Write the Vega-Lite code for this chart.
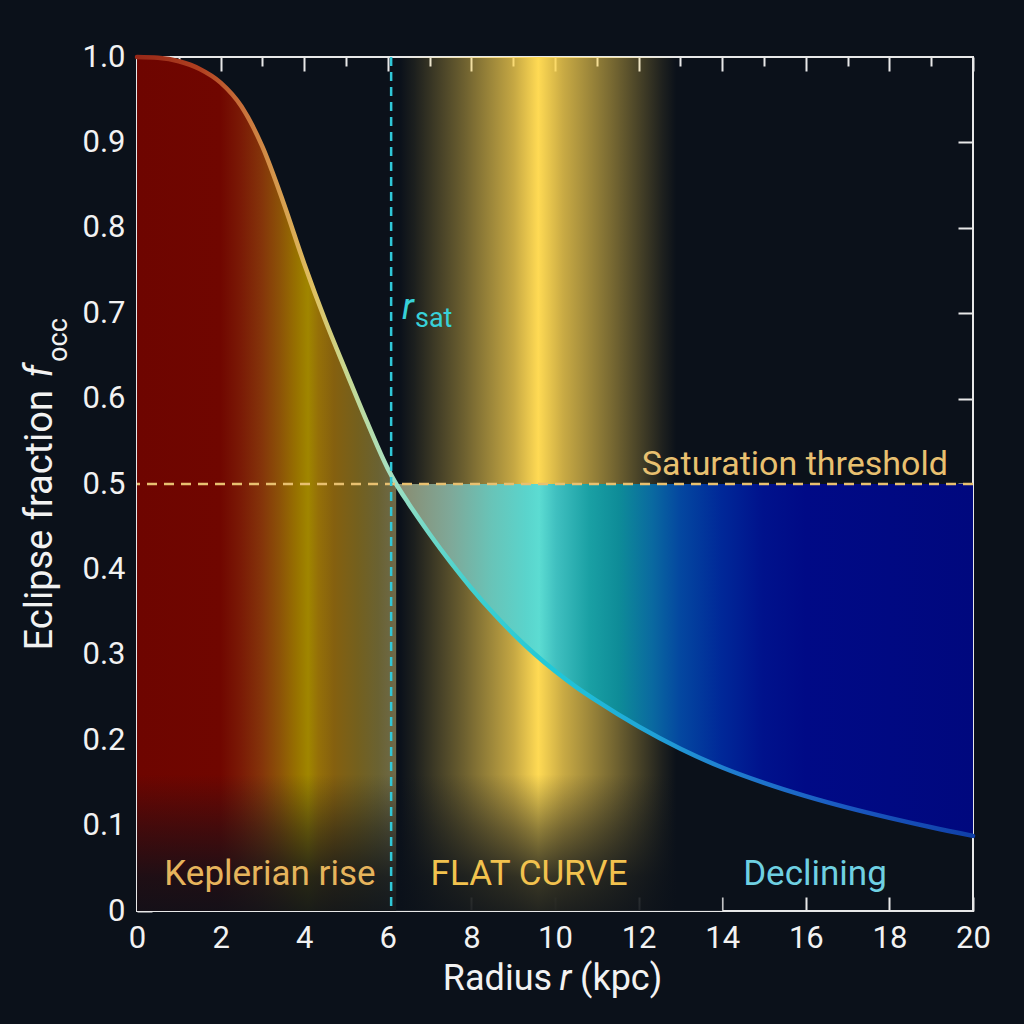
{
  "$schema": "https://vega.github.io/schema/vega-lite/v6.json",
  "width": 836,
  "height": 854,
  "autosize": {"type": "none"},
  "padding": {"left": 137, "top": 57, "right": 51, "bottom": 113},
  "background": "#0b111a",
  "config": {
    "view": {"stroke": "#e8e8e8", "strokeWidth": 2},
    "font": "Roboto",
    "axis": {
      "domain": false,
      "grid": false,
      "tickColor": "#e8e8e8",
      "tickWidth": 2,
      "labelColor": "#f2f2f2",
      "labelFont": "Roboto",
      "labelFontSize": 31,
      "labelFlush": false
    }
  },
  "datasets": {
    "curve": [
      {"r": 0, "f": 1.0},
      {"r": 0.5, "f": 0.999},
      {"r": 1.0, "f": 0.995},
      {"r": 1.5, "f": 0.986},
      {"r": 2.0, "f": 0.97},
      {"r": 2.5, "f": 0.942},
      {"r": 3.0, "f": 0.895},
      {"r": 3.5, "f": 0.83},
      {"r": 4.0, "f": 0.758},
      {"r": 4.5, "f": 0.692},
      {"r": 5.0, "f": 0.632},
      {"r": 5.5, "f": 0.573},
      {"r": 6.0, "f": 0.518},
      {"r": 6.2, "f": 0.5},
      {"r": 6.5, "f": 0.477},
      {"r": 7.0, "f": 0.4415},
      {"r": 7.5, "f": 0.4085},
      {"r": 8.0, "f": 0.378},
      {"r": 8.5, "f": 0.35},
      {"r": 9.0, "f": 0.3245},
      {"r": 9.5, "f": 0.3015},
      {"r": 10.0, "f": 0.281},
      {"r": 10.5, "f": 0.2625},
      {"r": 11.0, "f": 0.246},
      {"r": 12.0, "f": 0.216},
      {"r": 13.0, "f": 0.19},
      {"r": 14.0, "f": 0.168},
      {"r": 15.0, "f": 0.15},
      {"r": 16.0, "f": 0.1345},
      {"r": 17.0, "f": 0.121},
      {"r": 18.0, "f": 0.109},
      {"r": 19.0, "f": 0.098},
      {"r": 20.0, "f": 0.088}
    ]
  },
  "resolve": {"axis": {"x": "independent", "y": "independent"}},
  "layer": [
    {
      "data": {"values": [{"r1": 6.3, "r2": 12.9, "f1": 0, "f2": 1}]},
      "mark": {
        "type": "rect",
        "fill": {
          "gradient": "linear", "x1": 0, "y1": 0, "x2": 1, "y2": 0,
          "stops": [
            {"offset": 0, "color": "rgba(255,214,80,0)"},
            {"offset": 0.05, "color": "rgba(255,214,80,0.07)"},
            {"offset": 0.23, "color": "rgba(255,214,80,0.4)"},
            {"offset": 0.41, "color": "rgba(255,214,80,0.76)"},
            {"offset": 0.5, "color": "rgba(255,218,84,1)"},
            {"offset": 0.59, "color": "rgba(255,214,80,0.78)"},
            {"offset": 0.77, "color": "rgba(255,214,80,0.44)"},
            {"offset": 0.95, "color": "rgba(255,214,80,0.08)"},
            {"offset": 1, "color": "rgba(255,214,80,0)"}
          ]
        }
      },
      "encoding": {
        "x": {
          "field": "r1", "type": "quantitative",
          "scale": {"domain": [0, 20], "nice": false},
          "axis": {"orient": "bottom", "values": [0, 2, 4, 6, 8, 10, 12, 14, 16, 18, 20], "tickSize": -14, "labelPadding": 26, "title": null}
        },
        "x2": {"field": "r2"},
        "y": {
          "field": "f1", "type": "quantitative",
          "scale": {"domain": [0, 1], "nice": false},
          "axis": {"orient": "left", "values": [0, 0.1, 0.2, 0.3, 0.4, 0.5, 0.6, 0.7, 0.8, 0.9, 1], "tickSize": -15, "labelPadding": 27, "labelExpr": "datum.value == 0 ? '0' : format(datum.value, '.1f')", "title": null}
        },
        "y2": {"field": "f2"}
      }
    },
    {
      "data": {"name": "curve"},
      "transform": [{"filter": "datum.r <= 6.2"}],
      "mark": {
        "type": "area",
        "interpolate": "monotone",
        "fill": {
          "gradient": "linear", "x1": 0, "y1": 0, "x2": 1, "y2": 0,
          "stops": [
            {"offset": 0, "color": "#6e0500"},
            {"offset": 0.32, "color": "#700600"},
            {"offset": 0.4, "color": "#7a1a06"},
            {"offset": 0.48, "color": "#84340a"},
            {"offset": 0.55, "color": "#8c5208"},
            {"offset": 0.62, "color": "#987400"},
            {"offset": 0.66, "color": "#a08600"},
            {"offset": 0.7, "color": "#957008"},
            {"offset": 0.76, "color": "#85600f"},
            {"offset": 0.85, "color": "#74601e"},
            {"offset": 0.93, "color": "#6a6232"},
            {"offset": 1, "color": "#6e6a4a"}
          ]
        }
      },
      "encoding": {
        "x": {
          "field": "r", "type": "quantitative",
          "axis": {"orient": "top", "values": [0, 2, 4, 6, 8, 10, 12, 14, 16, 18, 20], "tickSize": -14, "labels": false, "title": null}
        },
        "y": {
          "field": "f", "type": "quantitative",
          "axis": {"orient": "right", "values": [0.1, 0.2, 0.3, 0.4, 0.5, 0.6, 0.7, 0.8, 0.9], "tickSize": -15, "labels": false, "title": null}
        },
        "y2": {"datum": 0}
      }
    },
    {
      "data": {"name": "curve"},
      "transform": [{"filter": "datum.r >= 6.2"}],
      "mark": {
        "type": "area",
        "interpolate": "monotone",
        "fill": {
          "gradient": "linear", "x1": 0, "y1": 0, "x2": 1, "y2": 0,
          "stops": [
            {"offset": 0, "color": "#8a8a6e"},
            {"offset": 0.094, "color": "#7fa898"},
            {"offset": 0.166, "color": "#68c4b8"},
            {"offset": 0.226, "color": "#5ad4cc"},
            {"offset": 0.248, "color": "#5cdcd2"},
            {"offset": 0.277, "color": "#40c0c0"},
            {"offset": 0.335, "color": "#1aa0a4"},
            {"offset": 0.386, "color": "#0e8c98"},
            {"offset": 0.443, "color": "#0a6aa0"},
            {"offset": 0.491, "color": "#0448a0"},
            {"offset": 0.564, "color": "#002898"},
            {"offset": 0.636, "color": "#00128c"},
            {"offset": 0.71, "color": "#000a86"},
            {"offset": 1, "color": "#00087e"}
          ]
        }
      },
      "encoding": {
        "x": {
          "field": "r", "type": "quantitative",
          "axis": {"orient": "top", "values": [1, 3, 5, 7, 9, 11, 13, 15, 17, 19], "tickSize": -9, "labels": false, "title": null}
        },
        "y": {"field": "f", "type": "quantitative", "axis": null},
        "y2": {"datum": 0.5}
      }
    },
    {
      "data": {"values": [{"r1": 0, "r2": 14, "f1": 0, "f2": 0.16}]},
      "mark": {
        "type": "rect",
        "fill": {
          "gradient": "linear", "x1": 0, "y1": 0, "x2": 0, "y2": 1,
          "stops": [
            {"offset": 0, "color": "rgba(11,17,26,0)"},
            {"offset": 0.4, "color": "rgba(11,17,26,0.45)"},
            {"offset": 0.75, "color": "rgba(11,17,26,0.8)"},
            {"offset": 1, "color": "rgba(11,17,26,0.9)"}
          ]
        }
      },
      "encoding": {
        "x": {"field": "r1", "type": "quantitative", "axis": null},
        "x2": {"field": "r2"},
        "y": {"field": "f1", "type": "quantitative", "axis": null},
        "y2": {"field": "f2"}
      }
    },
    {
      "data": {"name": "curve"},
      "mark": {
        "type": "line",
        "interpolate": "monotone",
        "strokeWidth": 4.5,
        "strokeCap": "round",
        "stroke": {
          "gradient": "linear", "x1": 0, "y1": 0, "x2": 1, "y2": 0,
          "stops": [
            {"offset": 0, "color": "#962818"},
            {"offset": 0.075, "color": "#b04020"},
            {"offset": 0.125, "color": "#c8703a"},
            {"offset": 0.175, "color": "#d8a050"},
            {"offset": 0.21, "color": "#e0c060"},
            {"offset": 0.25, "color": "#c8d890"},
            {"offset": 0.3, "color": "#a8e0c0"},
            {"offset": 0.35, "color": "#70d8c8"},
            {"offset": 0.4, "color": "#40d0d0"},
            {"offset": 0.5, "color": "#20c8d8"},
            {"offset": 0.6, "color": "#20a8d8"},
            {"offset": 0.7, "color": "#2080d0"},
            {"offset": 0.85, "color": "#1a58c0"},
            {"offset": 1, "color": "#1040a8"}
          ]
        }
      },
      "encoding": {
        "x": {"field": "r", "type": "quantitative", "axis": null},
        "y": {"field": "f", "type": "quantitative", "axis": null}
      }
    },
    {
      "data": {"values": [{"f": 0.5}]},
      "mark": {"type": "rule", "color": "#e8c070", "strokeWidth": 2.5, "strokeDash": [10, 7]},
      "encoding": {"y": {"field": "f", "type": "quantitative", "axis": null}}
    },
    {
      "data": {"values": [{"r": 6.08}]},
      "mark": {"type": "rule", "color": "#30c8d8", "strokeWidth": 2.5, "strokeDash": [9, 6]},
      "encoding": {"x": {"field": "r", "type": "quantitative", "axis": null}}
    },
    {
      "data": {"values": [{"label": "Saturation threshold", "r": 19.4, "f": 0.511}]},
      "mark": {"type": "text", "align": "right", "baseline": "alphabetic", "color": "#e8c070", "fontSize": 34, "font": "Roboto"},
      "encoding": {
        "x": {"field": "r", "type": "quantitative", "axis": null},
        "y": {"field": "f", "type": "quantitative", "axis": null},
        "text": {"field": "label"}
      }
    },
    {
      "data": {"values": [{"label": "Keplerian rise", "r": 3.18, "f": 0.03}]},
      "mark": {"type": "text", "align": "center", "baseline": "alphabetic", "color": "#e6b45c", "fontSize": 35, "font": "Roboto"},
      "encoding": {
        "x": {"field": "r", "type": "quantitative", "axis": null},
        "y": {"field": "f", "type": "quantitative", "axis": null},
        "text": {"field": "label"}
      }
    },
    {
      "data": {"values": [{"label": "FLAT CURVE", "r": 9.38, "f": 0.03}]},
      "mark": {"type": "text", "align": "center", "baseline": "alphabetic", "color": "#f2c24e", "fontSize": 35, "font": "Roboto"},
      "encoding": {
        "x": {"field": "r", "type": "quantitative", "axis": null},
        "y": {"field": "f", "type": "quantitative", "axis": null},
        "text": {"field": "label"}
      }
    },
    {
      "data": {"values": [{"label": "Declining", "r": 16.22, "f": 0.03}]},
      "mark": {"type": "text", "align": "center", "baseline": "alphabetic", "color": "#6fd0e2", "fontSize": 35, "font": "Roboto"},
      "encoding": {
        "x": {"field": "r", "type": "quantitative", "axis": null},
        "y": {"field": "f", "type": "quantitative", "axis": null},
        "text": {"field": "label"}
      }
    },
    {
      "data": {"values": [{"label": "r", "r": 6.34, "f": 0.693}]},
      "mark": {"type": "text", "align": "left", "baseline": "alphabetic", "color": "#38d0d8", "fontSize": 36, "fontStyle": "italic", "font": "Roboto"},
      "encoding": {
        "x": {"field": "r", "type": "quantitative", "axis": null},
        "y": {"field": "f", "type": "quantitative", "axis": null},
        "text": {"field": "label"}
      }
    },
    {
      "data": {"values": [{"label": "sat", "r": 6.65, "f": 0.684}]},
      "mark": {"type": "text", "align": "left", "baseline": "alphabetic", "color": "#38d0d8", "fontSize": 27, "font": "Roboto"},
      "encoding": {
        "x": {"field": "r", "type": "quantitative", "axis": null},
        "y": {"field": "f", "type": "quantitative", "axis": null},
        "text": {"field": "label"}
      }
    },
    {
      "data": {"values": [{"label": "Radius", "r": 9.93, "f": -0.0925}]},
      "mark": {"type": "text", "align": "right", "baseline": "alphabetic", "color": "#f2f2f2", "fontSize": 36, "font": "Roboto"},
      "encoding": {
        "x": {"field": "r", "type": "quantitative", "axis": null},
        "y": {"field": "f", "type": "quantitative", "axis": null},
        "text": {"field": "label"}
      }
    },
    {
      "data": {"values": [{"label": "r", "r": 10.25, "f": -0.0925}]},
      "mark": {"type": "text", "align": "center", "baseline": "alphabetic", "color": "#f2f2f2", "fontSize": 36, "fontStyle": "italic", "font": "Roboto"},
      "encoding": {
        "x": {"field": "r", "type": "quantitative", "axis": null},
        "y": {"field": "f", "type": "quantitative", "axis": null},
        "text": {"field": "label"}
      }
    },
    {
      "data": {"values": [{"label": "(kpc)", "r": 10.6, "f": -0.0925}]},
      "mark": {"type": "text", "align": "left", "baseline": "alphabetic", "color": "#f2f2f2", "fontSize": 36, "font": "Roboto"},
      "encoding": {
        "x": {"field": "r", "type": "quantitative", "axis": null},
        "y": {"field": "f", "type": "quantitative", "axis": null},
        "text": {"field": "label"}
      }
    },
    {
      "data": {"values": [{"label": "Eclipse fraction", "r": -2.03, "f": 0.61}]},
      "mark": {"type": "text", "angle": 270, "align": "right", "baseline": "alphabetic", "color": "#f2f2f2", "fontSize": 38, "font": "Roboto"},
      "encoding": {
        "x": {"field": "r", "type": "quantitative", "axis": null},
        "y": {"field": "f", "type": "quantitative", "axis": null},
        "text": {"field": "label"}
      }
    },
    {
      "data": {"values": [{"label": "f", "r": -2.03, "f": 0.632}]},
      "mark": {"type": "text", "angle": 270, "align": "center", "baseline": "alphabetic", "color": "#f2f2f2", "fontSize": 38, "fontStyle": "italic", "font": "Roboto"},
      "encoding": {
        "x": {"field": "r", "type": "quantitative", "axis": null},
        "y": {"field": "f", "type": "quantitative", "axis": null},
        "text": {"field": "label"}
      }
    },
    {
      "data": {"values": [{"label": "occ", "r": -1.67, "f": 0.643}]},
      "mark": {"type": "text", "angle": 270, "align": "left", "baseline": "alphabetic", "color": "#f2f2f2", "fontSize": 27, "font": "Roboto"},
      "encoding": {
        "x": {"field": "r", "type": "quantitative", "axis": null},
        "y": {"field": "f", "type": "quantitative", "axis": null},
        "text": {"field": "label"}
      }
    }
  ]
}
